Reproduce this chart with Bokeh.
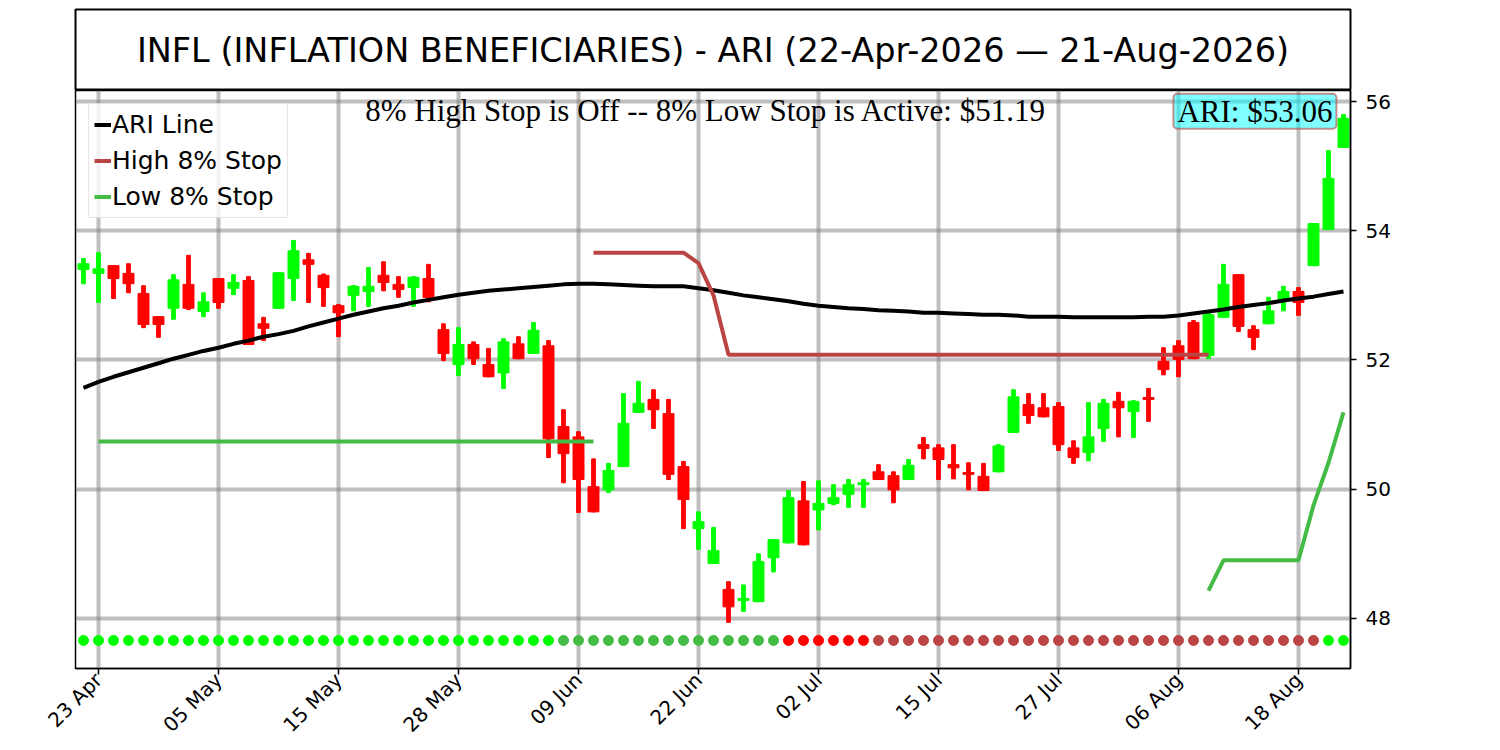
import math
from bokeh.plotting import figure
from bokeh.models import Range1d, FixedTicker, Label, Legend, LegendItem, ColumnDataSource
from bokeh.layouts import column
from bokeh.embed import file_html
from bokeh.resources import INLINE

N = float("nan")

title_text = "INFL (INFLATION BENEFICIARIES) - ARI (22-Apr-2026 \u2014 21-Aug-2026)"
tick_positions = [1, 9, 17, 25, 33, 41, 49, 57, 65, 73, 81]
tick_labels = ["23 Apr", "05 May", "15 May", "28 May", "09 Jun", "22 Jun",
               "02 Jul", "15 Jul", "27 Jul", "06 Aug", "18 Aug"]
y_ticks = [48, 50, 52, 54, 56]

opens = [53.40, 53.34, 53.46, 53.34, 53.03, 52.67, 52.80, 53.17, 52.75, 53.26,
         53.11, 53.23, 52.56, 52.80, 53.26, 53.55, 53.31, 52.84, 53.00, 53.06,
         53.31, 53.17, 53.12, 53.26, 52.47, 51.93, 52.24, 51.93, 51.80, 52.25,
         52.10, 52.22, 50.97, 50.81, 50.04, 49.99, 50.35, 51.19, 51.39, 51.17,
         50.35, 49.39, 48.85, 48.45, 48.28, 48.26, 48.94, 49.17, 49.82, 49.68,
         49.78, 49.92, 50.07, 50.27, 50.21, 50.15, 50.69, 50.64, 50.38, 50.26,
         50.20, 50.27, 50.88, 51.31, 51.26, 51.28, 50.64, 50.57, 50.94, 51.36,
         51.20, 51.42, 51.98, 52.22, 52.58, 52.07, 52.66, 53.32, 52.47, 52.56,
         52.94, 53.06, 53.46, 54.02, 55.29]
highs = [53.57, 53.66, 53.46, 53.49, 53.15, 52.67, 53.32, 53.62, 53.04, 53.26,
         53.32, 53.29, 52.66, 53.35, 53.85, 53.65, 53.33, 52.86, 53.15, 53.43,
         53.52, 53.29, 53.29, 53.48, 52.56, 52.50, 52.28, 52.18, 52.33, 52.36,
         52.58, 52.30, 51.23, 50.89, 50.47, 50.40, 51.48, 51.67, 51.54, 51.39,
         50.43, 49.65, 49.41, 48.57, 48.52, 49.00, 49.22, 49.98, 50.12, 50.13,
         50.07, 50.15, 50.15, 50.38, 50.27, 50.46, 50.80, 50.69, 50.69, 50.41,
         50.40, 50.69, 51.54, 51.48, 51.48, 51.34, 50.75, 51.34, 51.39, 51.50,
         51.37, 51.56, 52.19, 52.30, 52.61, 52.73, 53.48, 53.32, 52.53, 52.97,
         53.14, 53.12, 54.11, 55.24, 55.80]
lows = [53.18, 52.89, 52.95, 53.04, 52.50, 52.35, 52.63, 52.78, 52.67, 52.80,
        53.01, 52.24, 52.30, 52.80, 52.92, 52.89, 52.83, 52.36, 52.76, 52.83,
        53.07, 52.97, 52.83, 52.90, 51.99, 51.76, 51.93, 51.74, 51.56, 52.02,
        52.10, 50.49, 50.10, 49.64, 49.65, 49.95, 50.35, 51.19, 50.94, 50.15,
        49.39, 49.07, 48.85, 47.94, 48.11, 48.26, 48.72, 49.17, 49.14, 49.37,
        49.76, 49.72, 49.72, 50.15, 49.79, 50.15, 50.47, 50.15, 50.16, 49.99,
        49.98, 50.27, 50.88, 51.02, 51.12, 50.60, 50.40, 50.44, 50.74, 50.81,
        50.80, 51.05, 51.77, 51.74, 52.02, 52.02, 52.66, 52.44, 52.16, 52.56,
        52.76, 52.69, 53.46, 54.02, 55.29]
closes = [53.49, 53.41, 53.26, 53.18, 52.55, 52.55, 53.24, 52.80, 52.90, 52.89,
          53.20, 52.24, 52.49, 53.35, 53.69, 53.48, 53.12, 52.73, 53.14, 53.14,
          53.20, 53.09, 53.28, 52.97, 52.10, 52.24, 52.02, 51.74, 52.28, 52.02,
          52.46, 50.78, 50.55, 50.15, 49.65, 50.29, 51.02, 51.33, 51.23, 50.23,
          49.84, 49.50, 49.05, 48.18, 48.31, 48.88, 49.22, 49.87, 49.14, 49.78,
          49.87, 50.07, 50.10, 50.15, 49.99, 50.37, 50.63, 50.46, 50.33, 50.23,
          49.98, 50.67, 51.43, 51.14, 51.12, 50.69, 50.49, 50.81, 51.33, 51.26,
          51.36, 51.39, 51.85, 52.01, 52.02, 52.70, 53.17, 52.52, 52.35, 52.76,
          53.06, 52.89, 54.11, 54.81, 55.74]
ari = [51.57, 51.66, 51.74, 51.81, 51.88, 51.95, 52.02, 52.08, 52.14, 52.19,
       52.25, 52.30, 52.36, 52.40, 52.45, 52.52, 52.58, 52.64, 52.70, 52.75,
       52.80, 52.84, 52.89, 52.93, 52.97, 53.01, 53.04, 53.07, 53.09, 53.11,
       53.13, 53.15, 53.17, 53.18, 53.18, 53.17, 53.16, 53.15, 53.14, 53.14,
       53.14, 53.11, 53.08, 53.04, 53.00, 52.97, 52.94, 52.91, 52.87, 52.84,
       52.82, 52.80, 52.79, 52.77, 52.76, 52.75, 52.73, 52.73, 52.72, 52.71,
       52.70, 52.70, 52.69, 52.67, 52.67, 52.67, 52.66, 52.66, 52.66, 52.66,
       52.66, 52.67, 52.67, 52.69, 52.72, 52.75, 52.78, 52.82, 52.85, 52.88,
       52.92, 52.95, 52.98, 53.02, 53.06]
high_stop = [N, N, N, N, N, N, N, N, N, N,
             N, N, N, N, N, N, N, N, N, N,
             N, N, N, N, N, N, N, N, N, N,
             N, N, N, N, 53.66, 53.66, 53.66, 53.66, 53.66, 53.66,
             53.66, 53.50, 53.00, 52.08, 52.08, 52.08, 52.08, 52.08, 52.08, 52.08,
             52.08, 52.08, 52.08, 52.08, 52.08, 52.08, 52.08, 52.08, 52.08, 52.08,
             52.08, 52.08, 52.08, 52.08, 52.08, 52.08, 52.08, 52.08, 52.08, 52.08,
             52.08, 52.08, 52.08, 52.08, 52.08, 52.08, N, N, N, N,
             N, N, N, N, N]
low_stop = [N, 50.74, 50.74, 50.74, 50.74, 50.74, 50.74, 50.74, 50.74, 50.74,
            50.74, 50.74, 50.74, 50.74, 50.74, 50.74, 50.74, 50.74, 50.74, 50.74,
            50.74, 50.74, 50.74, 50.74, 50.74, 50.74, 50.74, 50.74, 50.74, 50.74,
            50.74, 50.74, 50.74, 50.74, 50.74, N, N, N, N, N,
            N, N, N, N, N, N, N, N, N, N,
            N, N, N, N, N, N, N, N, N, N,
            N, N, N, N, N, N, N, N, N, N,
            N, N, N, N, N, 48.43, 48.90, 48.90, 48.90, 48.90,
            48.90, 48.90, 49.75, 50.41, 51.19]
# signal state per bar: G = lime, g = green, R = red, r = dark red
signal = list("GGGGGGGGGG" "GGGGGGGGGG" "GGGGGGGGGG" "GGgggggggg"
              "gggggggRRR" "RRRrrrrrrr" "rrrrrrrrrr" "rrrrrrrrrr"
              "rrrGG")

UP, DOWN = "#00FF00", "#FF0000"
sig_colors = {"G": "#00FF00", "g": "#44BB44", "R": "#FF0000", "r": "#BB4444"}

xs = list(range(len(opens)))
cs = ColumnDataSource(dict(
    x=xs, high=highs, low=lows,
    top=[max(o, c) for o, c in zip(opens, closes)],
    bottom=[min(o, c) for o, c in zip(opens, closes)],
    color=[UP if c >= o else DOWN for o, c in zip(opens, closes)],
))
ds = ColumnDataSource(dict(x=xs, y=[47.66] * len(xs),
                           color=[sig_colors[s] for s in signal]))

FW = 1275
BL, BR = 75, 130

# ---- title box figure ----
t = figure(frame_width=FW, frame_height=81, x_range=Range1d(0, 1), y_range=Range1d(0, 1),
           x_axis_location=None, y_axis_location=None, toolbar_location=None,
           output_backend="svg", min_border_left=BL, min_border_right=BR,
           min_border_top=9, min_border_bottom=0)
t.outline_line_color = "black"
t.outline_line_width = 2
t.grid.visible = False
t.add_layout(Label(x=0.5, y=0.5, text=title_text, text_align="center",
                   text_baseline="middle", text_font="DejaVu Sans",
                   text_font_size="33.5px", text_color="black"))

# ---- main chart ----
p = figure(frame_width=FW, frame_height=578, x_range=Range1d(-0.533, 84.467),
           y_range=Range1d(47.226, 56.170), y_axis_location="right",
           toolbar_location=None, output_backend="svg",
           min_border_left=BL, min_border_right=BR, min_border_top=0,
           min_border_bottom=60)
p.outline_line_color = "black"
p.outline_line_width = 1.5
p.background_fill_color = "white"
p.border_fill_color = "white"

p.grid.grid_line_color = "gray"
p.grid.grid_line_alpha = 0.5
p.grid.grid_line_width = 4

p.xaxis.ticker = FixedTicker(ticks=tick_positions)
p.xaxis.major_label_overrides = {k: v for k, v in zip(tick_positions, tick_labels)}
p.xaxis.major_label_orientation = math.pi / 4
p.xaxis.major_label_standoff = 2
p.yaxis.ticker = FixedTicker(ticks=y_ticks)
p.yaxis.major_label_standoff = 9
for ax in (p.xaxis, p.yaxis):
    ax.major_label_text_font = "DejaVu Sans"
    ax.major_label_text_color = "black"
    ax.major_label_text_font_size = "20px"
    ax.major_tick_out = 6
    ax.major_tick_in = 0
    ax.minor_tick_out = 0
    ax.minor_tick_in = 0
    ax.major_tick_line_color = "black"
    ax.major_tick_line_width = 1.5
    ax.axis_line_color = "black"
    ax.axis_line_width = 1.5

# candles
p.vbar(x="x", width=0.25, top="high", bottom="low", color="color", source=cs)
p.vbar(x="x", width=0.73, top="top", bottom="bottom", color="color", source=cs)

# lines
r_ari = p.line(xs, ari, line_color="black", line_width=4)
r_hi = p.line(xs, high_stop, line_color="#BB4444", line_width=4)
r_lo = p.line(xs, low_stop, line_color="#44BB44", line_width=4)

# signal dots
p.scatter(x="x", y="y", size=10, color="color", source=ds)

legend = Legend(items=[LegendItem(label="ARI Line", renderers=[r_ari]),
                       LegendItem(label="High 8% Stop", renderers=[r_hi]),
                       LegendItem(label="Low 8% Stop", renderers=[r_lo])],
                location="top_left")
legend.label_text_font = "DejaVu Sans"
legend.label_text_font_size = "25px"
legend.label_text_color = "black"
legend.glyph_width = 17
legend.glyph_height = 31
legend.label_height = 31
legend.label_standoff = 1
legend.spacing = 5
legend.padding = 5
legend.margin = 13
legend.border_line_color = "#cccccc"
legend.border_line_width = 1.5
legend.background_fill_alpha = 0.8
p.add_layout(legend)

status = f"8% High Stop is Off -- 8% Low Stop is Active: ${low_stop[-1]:.2f}"
p.add_layout(Label(x=41.5, y=55.86, text=status, text_align="center",
                   text_baseline="alphabetic", text_font="Liberation Serif",
                   text_font_size="31px", text_color="black"))
p.add_layout(Label(x=83.53, y=55.85, text=f"ARI: ${ari[-1]:.2f}",
                   text_align="right", text_baseline="alphabetic",
                   text_font="Liberation Serif", text_font_size="31px",
                   text_color="black", background_fill_color="#00FFFF",
                   background_fill_alpha=0.5, border_line_color="#BB4444",
                   border_line_alpha=0.6, border_line_width=2,
                   padding=(4, 0), border_radius=4))

layout = column(t, p, spacing=0)
open("out.html", "w").write(file_html(layout, INLINE))
